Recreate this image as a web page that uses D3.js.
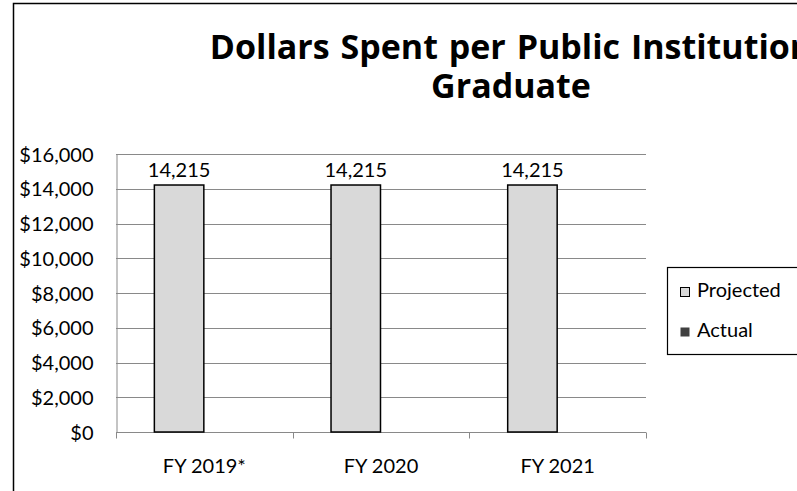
<!DOCTYPE html>
<html><head><meta charset="utf-8">
<script src="https://cdn.jsdelivr.net/npm/d3@7/dist/d3.min.js"></script>
<style>
html,body{margin:0;padding:0;background:#fff;overflow:hidden}
svg{display:block}
text{font-family:Lato,"Open Sans",sans-serif;fill:#000}
</style></head>
<body>
<script>
const categories = ["FY 2019*", "FY 2020", "FY 2021"];
const seriesNames = ["Projected", "Actual"];
const projected = [14215, 14215, 14215];
const actual = [0, 0, 0];
const yTicks = [0, 2000, 4000, 6000, 8000, 10000, 12000, 14000, 16000];
const titleLines = ["Dollars Spent per Public Institution", "Graduate"];
const seriesColors = ["#d9d9d9", "#404040"];

const W = 797, H = 491;
const FS = 20;
const svg = d3.select("body").append("svg").attr("width", W).attr("height", H);

// outer chart frame (extends beyond viewport on right and bottom)
svg.append("rect").attr("x", 14.5).attr("y", 4.5).attr("width", 900).attr("height", 600)
  .attr("fill", "#fff").attr("stroke", "#bfbfbf").attr("stroke-width", 3);
svg.append("rect").attr("x", 13.5).attr("y", 3.5).attr("width", 900).attr("height", 600)
  .attr("fill", "#fff").attr("stroke", "#000").attr("stroke-width", 1.5);

// title (one wrapped text element)
const title = svg.append("text")
  .attr("text-anchor", "middle").attr("font-weight", "bold").attr("font-size", 34)
  .style("font-family", "'Open Sans', sans-serif");
title.selectAll("tspan").data(titleLines).join("tspan")
  .attr("x", 511).attr("y", (d, i) => 59 + i * 39)
  .attr("word-spacing", (d, i) => i === 0 ? 2 : 0)
  .text(d => d);

const plot = {left: 116, right: 646, top: 154, bottom: 432};
const x = d3.scaleBand().domain(categories).range([plot.left, plot.right]).paddingInner(0).paddingOuter(0);
const y = d3.scaleLinear().domain([0, 16000]).range([plot.bottom, plot.top]);
const x1 = d3.scaleBand().domain(seriesNames).range([0, x.bandwidth()]).paddingInner(0).paddingOuter(0.75);

// gridlines
svg.append("g").selectAll("line").data(yTicks.filter(v => v > 0)).join("line")
  .attr("x1", plot.left).attr("x2", plot.right)
  .attr("y1", d => Math.round(y(d)) + 0.5).attr("y2", d => Math.round(y(d)) + 0.5)
  .attr("stroke", "#898989").attr("stroke-width", 1);

// y axis
const yAxis = d3.axisLeft(y).tickValues(yTicks).tickSize(0).tickPadding(0)
  .tickFormat(d => "$" + d3.format(",")(d));
const gy = svg.append("g").attr("transform", `translate(${plot.left + 0.5},0)`).call(yAxis);
gy.select(".domain").attr("stroke", "#898989");
gy.selectAll("text").attr("x", -23).attr("dy", "0.36em").attr("font-size", FS)
  .style("font-family", "Lato, sans-serif").attr("fill", "#000");

// x axis
const xAxis = d3.axisBottom(x).tickSize(0).tickPadding(0);
const gx = svg.append("g").attr("transform", `translate(0,${plot.bottom + 0.5})`).call(xAxis);
gx.select(".domain").remove();
gx.append("line").attr("x1", plot.left).attr("x2", plot.right).attr("stroke", "#898989");
gx.selectAll(".tick text").attr("y", 40).attr("dy", 0).attr("font-size", FS)
  .style("font-family", "Lato, sans-serif").attr("fill", "#000");
const bounds = categories.map(c => x(c)).concat([plot.right]);
gx.append("g").selectAll("line").data(bounds).join("line")
  .attr("x1", d => Math.round(d) + 0.5).attr("x2", d => Math.round(d) + 0.5)
  .attr("y1", 0).attr("y2", 6).attr("stroke", "#898989");

// bars
const rows = categories.map((c, i) => ({c, vals: [projected[i], actual[i]]}));
const groups = svg.append("g").selectAll("g").data(rows).join("g")
  .attr("transform", d => `translate(${x(d.c)},0)`);
groups.selectAll("rect").data(d => d.vals.map((v, j) => ({v, s: seriesNames[j], j})).filter(e => e.v > 0))
  .join("rect")
  .attr("x", e => x1(e.s) + 0.5).attr("width", x1.bandwidth() - 1)
  .attr("y", e => y(e.v)).attr("height", e => y(0) - y(e.v))
  .attr("fill", e => seriesColors[e.j]).attr("stroke", "#000").attr("stroke-width", 1.5);

// data labels
groups.selectAll("text.lbl").data(d => d.vals.map((v, j) => ({v, s: seriesNames[j]})).filter(e => e.v > 0))
  .join("text").attr("class", "lbl")
  .attr("x", e => x1(e.s) + x1.bandwidth() / 2).attr("y", e => y(e.v) - 8)
  .attr("text-anchor", "middle").attr("font-size", FS)
  .text(e => d3.format(",")(e.v));

// legend
const lg = svg.append("g");
lg.append("rect").attr("x", 667.5).attr("y", 267.5).attr("width", 140).attr("height", 87)
  .attr("fill", "#fff").attr("stroke", "#000").attr("stroke-width", 1.2);
const li = lg.selectAll("g").data(seriesNames).join("g")
  .attr("transform", (d, i) => `translate(680,${287 + i * 40})`);
li.append("rect").attr("x", 0.5).attr("y", 0.5).attr("width", 9).attr("height", 9)
  .attr("fill", (d, i) => seriesColors[i]).attr("stroke", (d, i) => i === 0 ? "#000" : "none");
li.append("text").attr("x", 17).attr("y", 10).attr("font-size", FS).text(d => d);
</script>
</body></html>
